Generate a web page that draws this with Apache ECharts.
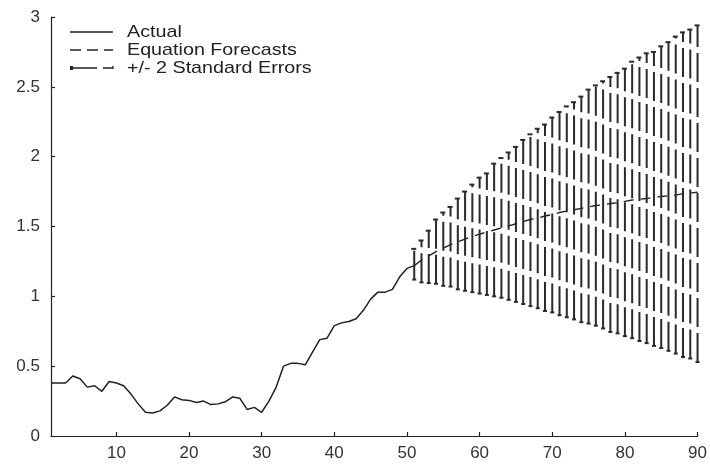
<!DOCTYPE html>
<html>
<head>
<meta charset="utf-8">
<script src="https://cdn.jsdelivr.net/npm/echarts@6/dist/echarts.min.js"></script>
<style>
  html, body { margin: 0; padding: 0; background: #fff; }
  #chart { width: 710px; height: 469px; }
</style>
</head>
<body>
<div id="chart"></div>
<script>
// Observed values, periods 1..51
const actualX = [1,2,3,4,5,6,7,8,9,10,11,12,13,14,15,16,17,18,19,20,21,22,23,24,25,26,27,28,29,30,31,32,33,34,35,36,37,38,39,40,41,42,43,44,45,46,47,48,49,50,51];
const actualY = [0.38,0.38,0.38,0.43,0.41,0.35,0.36,0.32,0.39,0.38,0.36,0.30,0.23,0.17,0.165,0.18,0.22,0.28,0.26,0.255,0.24,0.25,0.225,0.23,0.245,0.28,0.27,0.19,0.205,0.17,0.25,0.35,0.50,0.52,0.52,0.51,0.60,0.69,0.70,0.79,0.81,0.82,0.84,0.90,0.98,1.03,1.03,1.05,1.14,1.20,1.22];

// Forecast horizon, periods 51..90
const forecastX = [51,52,53,54,55,56,57,58,59,60,61,62,63,64,65,66,67,68,69,70,71,72,73,74,75,76,77,78,79,80,81,82,83,84,85,86,87,88,89,90];
const forecastY = [1.22,1.26,1.29,1.32,1.345,1.37,1.39,1.41,1.43,1.445,1.46,1.475,1.49,1.505,1.52,1.535,1.55,1.56,1.575,1.585,1.60,1.61,1.62,1.63,1.64,1.65,1.655,1.665,1.67,1.68,1.69,1.695,1.70,1.71,1.715,1.72,1.725,1.735,1.74,1.745];

// +/- 2 standard error band
const upperY = [1.34,1.40,1.47,1.55,1.60,1.64,1.70,1.75,1.80,1.85,1.88,1.95,1.99,2.03,2.07,2.12,2.16,2.20,2.23,2.28,2.32,2.36,2.39,2.43,2.48,2.51,2.54,2.57,2.60,2.63,2.68,2.71,2.74,2.75,2.79,2.82,2.86,2.89,2.91,2.94];
const lowerY = [1.12,1.10,1.095,1.09,1.075,1.07,1.05,1.04,1.03,1.02,1.01,1.00,0.99,0.975,0.96,0.945,0.93,0.915,0.895,0.885,0.865,0.85,0.835,0.815,0.805,0.79,0.77,0.745,0.735,0.715,0.70,0.68,0.665,0.645,0.63,0.61,0.59,0.565,0.555,0.53];

// Axis ticks
const xTicks = [10,20,30,40,50,60,70,80,90];
const yTicks = [0,0.5,1,1.5,2,2.5,3];

const seriesNames = ['Actual', 'Equation Forecasts', '+/- 2 Standard Errors'];

const INK = '#222';
const FONT = '"Liberation Sans", Arial, sans-serif';

const chart = echarts.init(document.getElementById('chart'), null, { renderer: 'canvas' });

const axisCommon = {
  axisLine: { show: true, lineStyle: { color: INK, width: 1.2 } },
  axisTick: { show: true, inside: true, length: 4, lineStyle: { color: INK, width: 1.2 } },
  splitLine: { show: false },
  axisLabel: { color: '#333', fontSize: 17, fontFamily: FONT }
};

// legend drawn as graphics so that each key matches its line style
const legendX0 = 70, legendX1 = 113, textX = 127;
const legendRows = [32, 50, 68];
const legendGraphics = [
  { type: 'line', shape: { x1: legendX0, y1: legendRows[0], x2: legendX1, y2: legendRows[0] },
    style: { stroke: INK, lineWidth: 1.5 } },
  { type: 'line', shape: { x1: legendX0, y1: legendRows[1], x2: legendX1, y2: legendRows[1] },
    style: { stroke: INK, lineWidth: 1.5, lineDash: [11, 6] } },
  { type: 'line', shape: { x1: legendX0, y1: legendRows[2], x2: legendX1, y2: legendRows[2] },
    style: { stroke: INK, lineWidth: 1.6, lineDash: [27, 6] } },
  { type: 'rect', shape: { x: legendX0, y: legendRows[2] - 2, width: 3, height: 4 },
    style: { fill: INK } },
  { type: 'line', shape: { x1: legendX1, y1: legendRows[2] - 2, x2: legendX1, y2: legendRows[2] + 1 },
    style: { stroke: INK, lineWidth: 1.2 } }
].concat(seriesNames.map((name, i) => ({
  type: 'text',
  x: textX, y: legendRows[i], scaleX: 1.16, scaleY: 1,
  style: { text: name, x: 0, y: 0, verticalAlign: 'middle',
           font: '17px ' + FONT, fill: INK }
})));

chart.setOption({
  animation: false,
  backgroundColor: '#fff',
  grid: { left: 51, right: 12, top: 17, bottom: 33, containLabel: false },
  xAxis: Object.assign({}, axisCommon, {
    type: 'value', min: 1, max: 90,
    axisTick: Object.assign({}, axisCommon.axisTick, { customValues: xTicks }),
    axisLabel: Object.assign({}, axisCommon.axisLabel, { customValues: xTicks, margin: 9 })
  }),
  yAxis: Object.assign({}, axisCommon, {
    type: 'value', min: 0, max: 3,
    axisTick: Object.assign({}, axisCommon.axisTick, { customValues: yTicks }),
    axisLabel: Object.assign({}, axisCommon.axisLabel, { customValues: yTicks, margin: 11 })
  }),
  graphic: legendGraphics,
  series: [
    {
      name: seriesNames[0], type: 'line', symbol: 'none', z: 3,
      data: actualX.map((x, i) => [x, actualY[i]]),
      lineStyle: { color: INK, width: 1.5 }
    },
    {
      name: seriesNames[1], type: 'line', symbol: 'none', z: 2,
      data: forecastX.map((x, i) => [x, forecastY[i]]),
      lineStyle: { color: INK, width: 1.4, type: [10, 7] }
    },
    {
      name: seriesNames[2], type: 'custom', z: 4,
      data: forecastX.map((x, i) => [x, lowerY[i], upperY[i]]),
      encode: { x: 0, y: [1, 2] },
      renderItem: function (params, api) {
        const x = api.value(0);
        const lo = api.coord([x, api.value(1)]);
        const hi = api.coord([x, api.value(2)]);
        const style = { stroke: '#2a2a2a', lineWidth: 2 };
        return {
          type: 'group',
          children: [
            { type: 'line', shape: { x1: lo[0], y1: lo[1], x2: hi[0], y2: hi[1] },
              style: Object.assign({ lineDash: [29, 6] }, style) },
            { type: 'line', shape: { x1: hi[0] - 3, y1: hi[1], x2: hi[0] + 2, y2: hi[1] },
              style: style },
            { type: 'line', shape: { x1: lo[0] - 2, y1: lo[1], x2: lo[0] + 2, y2: lo[1] },
              style: style }
          ]
        };
      }
    }
  ]
});
</script>
</body>
</html>
